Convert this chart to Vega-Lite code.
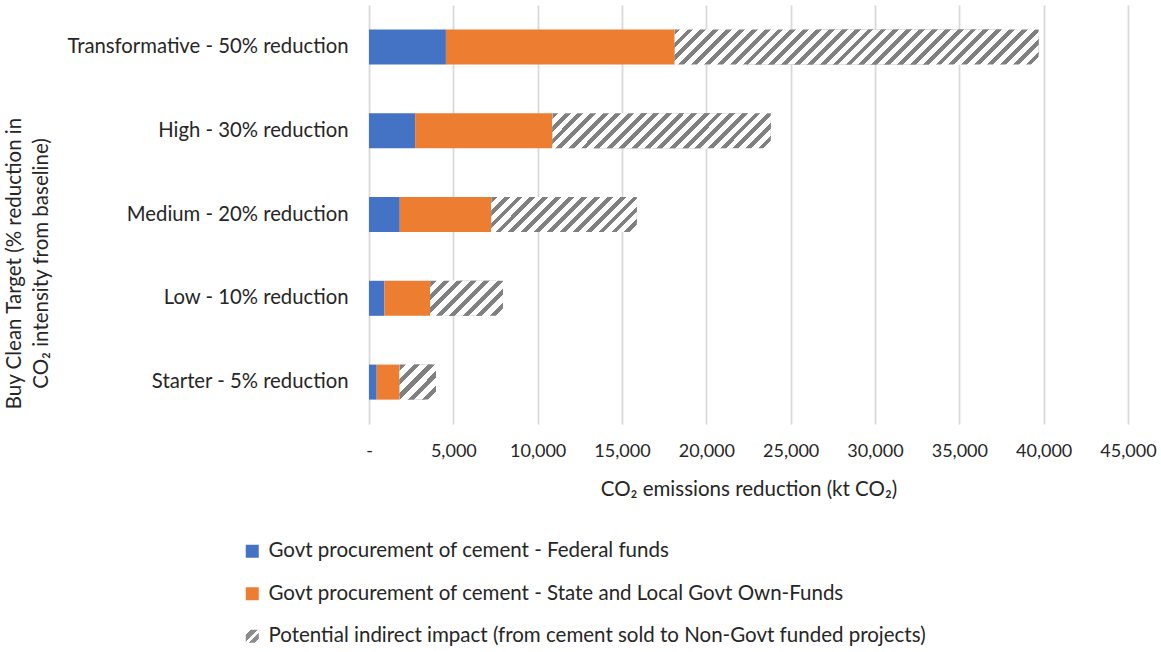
{
  "$schema": "https://vega.github.io/schema/vega-lite/v6.json",
  "autosize": {"type": "none"},
  "width": 759,
  "height": 419,
  "padding": {"left": 369, "top": 5, "right": 33, "bottom": 228},
  "background": "white",
  "config": {
    "view": {"stroke": null},
    "font": "Lato",
    "axis": {"labelFont": "Lato", "titleFont": "Lato", "labelColor": "#262626", "titleColor": "#262626", "titleFontWeight": "normal"},
    "legend": {"labelFont": "Lato", "labelColor": "#262626"}
  },
  "data": {
    "values": [
      {"Target": "Starter - 5% reduction", "Source": "Govt procurement of cement - Federal funds", "order": 1, "Value": 456},
      {"Target": "Starter - 5% reduction", "Source": "Govt procurement of cement - State and Local Govt Own-Funds", "order": 2, "Value": 1357},
      {"Target": "Starter - 5% reduction", "Source": "Potential indirect impact (from cement sold to Non-Govt funded projects)", "order": 3, "Value": 2157},
      {"Target": "Low - 10% reduction", "Source": "Govt procurement of cement - Federal funds", "order": 1, "Value": 912},
      {"Target": "Low - 10% reduction", "Source": "Govt procurement of cement - State and Local Govt Own-Funds", "order": 2, "Value": 2714},
      {"Target": "Low - 10% reduction", "Source": "Potential indirect impact (from cement sold to Non-Govt funded projects)", "order": 3, "Value": 4314},
      {"Target": "Medium - 20% reduction", "Source": "Govt procurement of cement - Federal funds", "order": 1, "Value": 1824},
      {"Target": "Medium - 20% reduction", "Source": "Govt procurement of cement - State and Local Govt Own-Funds", "order": 2, "Value": 5428},
      {"Target": "Medium - 20% reduction", "Source": "Potential indirect impact (from cement sold to Non-Govt funded projects)", "order": 3, "Value": 8628},
      {"Target": "High - 30% reduction", "Source": "Govt procurement of cement - Federal funds", "order": 1, "Value": 2736},
      {"Target": "High - 30% reduction", "Source": "Govt procurement of cement - State and Local Govt Own-Funds", "order": 2, "Value": 8142},
      {"Target": "High - 30% reduction", "Source": "Potential indirect impact (from cement sold to Non-Govt funded projects)", "order": 3, "Value": 12942},
      {"Target": "Transformative - 50% reduction", "Source": "Govt procurement of cement - Federal funds", "order": 1, "Value": 4560},
      {"Target": "Transformative - 50% reduction", "Source": "Govt procurement of cement - State and Local Govt Own-Funds", "order": 2, "Value": 13570},
      {"Target": "Transformative - 50% reduction", "Source": "Potential indirect impact (from cement sold to Non-Govt funded projects)", "order": 3, "Value": 21570}
    ]
  },
  "transform": [
    {"stack": "Value", "groupby": ["Target"], "sort": [{"field": "order"}], "as": ["x0", "x1"]}
  ],
  "encoding": {
    "x": {
      "field": "x0", "type": "quantitative",
      "scale": {"domain": [0, 45000], "nice": false},
      "axis": {
        "values": [0, 5000, 10000, 15000, 20000, 25000, 30000, 35000, 40000, 45000],
        "labelExpr": "datum.value == 0 ? '-' : format(datum.value, ',')",
        "domain": false, "ticks": false, "labelFlush": false, "labelOverlap": false,
        "grid": true, "gridColor": "#d9d9d9", "gridWidth": 1.8,
        "labelFontSize": 18, "labelPadding": 18,
        "title": "CO₂ emissions reduction (kt CO₂)",
        "titleFontSize": 20.5, "titlePadding": 19
      }
    },
    "x2": {"field": "x1"},
    "y": {
      "field": "Target", "type": "nominal",
      "sort": ["Transformative - 50% reduction", "High - 30% reduction", "Medium - 20% reduction", "Low - 10% reduction", "Starter - 5% reduction"],
      "scale": {"paddingInner": 0.582, "paddingOuter": 0.291},
      "axis": {
        "domain": false, "ticks": false, "grid": false,
        "labelFontSize": 20.3, "labelPadding": 21, "labelLimit": 400,
        "title": ["Buy Clean Target (% reduction in", "CO₂ intensity from baseline)"],
        "titleFontSize": 20.5, "titleLineHeight": 27,
        "titleX": -365, "titleY": 258, "titleAlign": "center", "titleBaseline": "top", "titleAngle": -90
      }
    }
  },
  "layer": [
    {
      "mark": {"type": "bar"},
      "encoding": {
        "color": {
          "field": "Source", "type": "nominal",
          "scale": {
            "domain": ["Govt procurement of cement - Federal funds", "Govt procurement of cement - State and Local Govt Own-Funds", "Potential indirect impact (from cement sold to Non-Govt funded projects)"],
            "range": ["#4472c4", "#ed7d31", {"expr": "{gradient: 'linear', x1: 0, y1: 0, x2: 1, y2: 1, stops: [{offset: 0, color: '#ffffff'}, {offset: 0.2, color: '#ffffff'}, {offset: 0.2, color: '#8c8c8c'}, {offset: 0.45, color: '#8c8c8c'}, {offset: 0.45, color: '#ffffff'}, {offset: 0.6, color: '#ffffff'}, {offset: 0.6, color: '#8c8c8c'}, {offset: 0.85, color: '#8c8c8c'}, {offset: 0.85, color: '#ffffff'}, {offset: 1, color: '#ffffff'}]}"}]
          },
          "legend": {
            "orient": "none", "legendX": -127, "legendY": 536, "direction": "vertical",
            "title": null, "symbolType": "square", "symbolSize": 169, "symbolStrokeWidth": 0,
            "labelFontSize": 20.5, "labelOffset": 6, "rowPadding": 21.5, "padding": 0, "labelLimit": 800
          }
        }
      }
    },
    {
      "transform": [{"filter": "datum.order == 3 && datum.Target == 'Starter - 5% reduction'"}],
      "mark": {"type": "bar", "fill": {"gradient": "linear", "x1": 0, "y1": 0, "x2": 1.019, "y2": 0.98, "stops": [
        {"offset": 0, "color": "#808080"}, {"offset": 0.09, "color": "#808080"}, {"offset": 0.09, "color": "#ffffff"}, {"offset": 0.2, "color": "#ffffff"},
        {"offset": 0.2, "color": "#808080"}, {"offset": 0.29, "color": "#808080"}, {"offset": 0.29, "color": "#ffffff"}, {"offset": 0.4, "color": "#ffffff"},
        {"offset": 0.4, "color": "#808080"}, {"offset": 0.49, "color": "#808080"}, {"offset": 0.49, "color": "#ffffff"}, {"offset": 0.6, "color": "#ffffff"},
        {"offset": 0.6, "color": "#808080"}, {"offset": 0.69, "color": "#808080"}, {"offset": 0.69, "color": "#ffffff"}, {"offset": 0.8, "color": "#ffffff"},
        {"offset": 0.8, "color": "#808080"}, {"offset": 0.89, "color": "#808080"}, {"offset": 0.89, "color": "#ffffff"}, {"offset": 1, "color": "#ffffff"}
      ]}}
    },
    {
      "transform": [{"filter": "datum.order == 3 && datum.Target == 'Low - 10% reduction'"}],
      "mark": {"type": "bar", "fill": {"gradient": "linear", "x1": 0, "y1": 0, "x2": 1.2027, "y2": 0.5782, "stops": [
        {"offset": 0, "color": "#808080"}, {"offset": 0.05625, "color": "#808080"}, {"offset": 0.05625, "color": "#ffffff"}, {"offset": 0.125, "color": "#ffffff"},
        {"offset": 0.125, "color": "#808080"}, {"offset": 0.18125, "color": "#808080"}, {"offset": 0.18125, "color": "#ffffff"}, {"offset": 0.25, "color": "#ffffff"},
        {"offset": 0.25, "color": "#808080"}, {"offset": 0.30625, "color": "#808080"}, {"offset": 0.30625, "color": "#ffffff"}, {"offset": 0.375, "color": "#ffffff"},
        {"offset": 0.375, "color": "#808080"}, {"offset": 0.43125, "color": "#808080"}, {"offset": 0.43125, "color": "#ffffff"}, {"offset": 0.5, "color": "#ffffff"},
        {"offset": 0.5, "color": "#808080"}, {"offset": 0.55625, "color": "#808080"}, {"offset": 0.55625, "color": "#ffffff"}, {"offset": 0.625, "color": "#ffffff"},
        {"offset": 0.625, "color": "#808080"}, {"offset": 0.68125, "color": "#808080"}, {"offset": 0.68125, "color": "#ffffff"}, {"offset": 0.75, "color": "#ffffff"},
        {"offset": 0.75, "color": "#808080"}, {"offset": 0.80625, "color": "#808080"}, {"offset": 0.80625, "color": "#ffffff"}, {"offset": 0.875, "color": "#ffffff"},
        {"offset": 0.875, "color": "#808080"}, {"offset": 0.93125, "color": "#808080"}, {"offset": 0.93125, "color": "#ffffff"}, {"offset": 1, "color": "#ffffff"}
      ]}}
    },
    {
      "transform": [{"filter": "datum.order == 3 && datum.Target == 'Medium - 20% reduction'"}],
      "mark": {"type": "bar", "fill": {"gradient": "linear", "x1": 0, "y1": 0, "x2": 1.1727, "y2": 0.2821, "stops": [
        {"offset": 0, "color": "#808080"}, {"offset": 0.032143, "color": "#808080"}, {"offset": 0.032143, "color": "#ffffff"}, {"offset": 0.071429, "color": "#ffffff"},
        {"offset": 0.071429, "color": "#808080"}, {"offset": 0.103571, "color": "#808080"}, {"offset": 0.103571, "color": "#ffffff"}, {"offset": 0.142857, "color": "#ffffff"},
        {"offset": 0.142857, "color": "#808080"}, {"offset": 0.175, "color": "#808080"}, {"offset": 0.175, "color": "#ffffff"}, {"offset": 0.214286, "color": "#ffffff"},
        {"offset": 0.214286, "color": "#808080"}, {"offset": 0.246429, "color": "#808080"}, {"offset": 0.246429, "color": "#ffffff"}, {"offset": 0.285714, "color": "#ffffff"},
        {"offset": 0.285714, "color": "#808080"}, {"offset": 0.317857, "color": "#808080"}, {"offset": 0.317857, "color": "#ffffff"}, {"offset": 0.357143, "color": "#ffffff"},
        {"offset": 0.357143, "color": "#808080"}, {"offset": 0.389286, "color": "#808080"}, {"offset": 0.389286, "color": "#ffffff"}, {"offset": 0.428571, "color": "#ffffff"},
        {"offset": 0.428571, "color": "#808080"}, {"offset": 0.460714, "color": "#808080"}, {"offset": 0.460714, "color": "#ffffff"}, {"offset": 0.5, "color": "#ffffff"},
        {"offset": 0.5, "color": "#808080"}, {"offset": 0.532143, "color": "#808080"}, {"offset": 0.532143, "color": "#ffffff"}, {"offset": 0.571429, "color": "#ffffff"},
        {"offset": 0.571429, "color": "#808080"}, {"offset": 0.603571, "color": "#808080"}, {"offset": 0.603571, "color": "#ffffff"}, {"offset": 0.642857, "color": "#ffffff"},
        {"offset": 0.642857, "color": "#808080"}, {"offset": 0.675, "color": "#808080"}, {"offset": 0.675, "color": "#ffffff"}, {"offset": 0.714286, "color": "#ffffff"},
        {"offset": 0.714286, "color": "#808080"}, {"offset": 0.746429, "color": "#808080"}, {"offset": 0.746429, "color": "#ffffff"}, {"offset": 0.785714, "color": "#ffffff"},
        {"offset": 0.785714, "color": "#808080"}, {"offset": 0.817857, "color": "#808080"}, {"offset": 0.817857, "color": "#ffffff"}, {"offset": 0.857143, "color": "#ffffff"},
        {"offset": 0.857143, "color": "#808080"}, {"offset": 0.889286, "color": "#808080"}, {"offset": 0.889286, "color": "#ffffff"}, {"offset": 0.928571, "color": "#ffffff"},
        {"offset": 0.928571, "color": "#808080"}, {"offset": 0.960714, "color": "#808080"}, {"offset": 0.960714, "color": "#ffffff"}, {"offset": 1, "color": "#ffffff"}
      ]}}
    },
    {
      "transform": [{"filter": "datum.order == 3 && datum.Target == 'High - 30% reduction'"}],
      "mark": {"type": "bar", "fill": {"gradient": "linear", "x1": 0, "y1": 0, "x2": 1.1312, "y2": 0.1814, "stops": [
        {"offset": 0, "color": "#808080"}, {"offset": 0.0225, "color": "#808080"}, {"offset": 0.0225, "color": "#ffffff"}, {"offset": 0.05, "color": "#ffffff"},
        {"offset": 0.05, "color": "#808080"}, {"offset": 0.0725, "color": "#808080"}, {"offset": 0.0725, "color": "#ffffff"}, {"offset": 0.1, "color": "#ffffff"},
        {"offset": 0.1, "color": "#808080"}, {"offset": 0.1225, "color": "#808080"}, {"offset": 0.1225, "color": "#ffffff"}, {"offset": 0.15, "color": "#ffffff"},
        {"offset": 0.15, "color": "#808080"}, {"offset": 0.1725, "color": "#808080"}, {"offset": 0.1725, "color": "#ffffff"}, {"offset": 0.2, "color": "#ffffff"},
        {"offset": 0.2, "color": "#808080"}, {"offset": 0.2225, "color": "#808080"}, {"offset": 0.2225, "color": "#ffffff"}, {"offset": 0.25, "color": "#ffffff"},
        {"offset": 0.25, "color": "#808080"}, {"offset": 0.2725, "color": "#808080"}, {"offset": 0.2725, "color": "#ffffff"}, {"offset": 0.3, "color": "#ffffff"},
        {"offset": 0.3, "color": "#808080"}, {"offset": 0.3225, "color": "#808080"}, {"offset": 0.3225, "color": "#ffffff"}, {"offset": 0.35, "color": "#ffffff"},
        {"offset": 0.35, "color": "#808080"}, {"offset": 0.3725, "color": "#808080"}, {"offset": 0.3725, "color": "#ffffff"}, {"offset": 0.4, "color": "#ffffff"},
        {"offset": 0.4, "color": "#808080"}, {"offset": 0.4225, "color": "#808080"}, {"offset": 0.4225, "color": "#ffffff"}, {"offset": 0.45, "color": "#ffffff"},
        {"offset": 0.45, "color": "#808080"}, {"offset": 0.4725, "color": "#808080"}, {"offset": 0.4725, "color": "#ffffff"}, {"offset": 0.5, "color": "#ffffff"},
        {"offset": 0.5, "color": "#808080"}, {"offset": 0.5225, "color": "#808080"}, {"offset": 0.5225, "color": "#ffffff"}, {"offset": 0.55, "color": "#ffffff"},
        {"offset": 0.55, "color": "#808080"}, {"offset": 0.5725, "color": "#808080"}, {"offset": 0.5725, "color": "#ffffff"}, {"offset": 0.6, "color": "#ffffff"},
        {"offset": 0.6, "color": "#808080"}, {"offset": 0.6225, "color": "#808080"}, {"offset": 0.6225, "color": "#ffffff"}, {"offset": 0.65, "color": "#ffffff"},
        {"offset": 0.65, "color": "#808080"}, {"offset": 0.6725, "color": "#808080"}, {"offset": 0.6725, "color": "#ffffff"}, {"offset": 0.7, "color": "#ffffff"},
        {"offset": 0.7, "color": "#808080"}, {"offset": 0.7225, "color": "#808080"}, {"offset": 0.7225, "color": "#ffffff"}, {"offset": 0.75, "color": "#ffffff"},
        {"offset": 0.75, "color": "#808080"}, {"offset": 0.7725, "color": "#808080"}, {"offset": 0.7725, "color": "#ffffff"}, {"offset": 0.8, "color": "#ffffff"},
        {"offset": 0.8, "color": "#808080"}, {"offset": 0.8225, "color": "#808080"}, {"offset": 0.8225, "color": "#ffffff"}, {"offset": 0.85, "color": "#ffffff"},
        {"offset": 0.85, "color": "#808080"}, {"offset": 0.8725, "color": "#808080"}, {"offset": 0.8725, "color": "#ffffff"}, {"offset": 0.9, "color": "#ffffff"},
        {"offset": 0.9, "color": "#808080"}, {"offset": 0.9225, "color": "#808080"}, {"offset": 0.9225, "color": "#ffffff"}, {"offset": 0.95, "color": "#ffffff"},
        {"offset": 0.95, "color": "#808080"}, {"offset": 0.9725, "color": "#808080"}, {"offset": 0.9725, "color": "#ffffff"}, {"offset": 1, "color": "#ffffff"}
      ]}}
    },
    {
      "transform": [{"filter": "datum.order == 3 && datum.Target == 'Transformative - 50% reduction'"}],
      "mark": {"type": "bar", "fill": {"gradient": "linear", "x1": 0, "y1": 0, "x2": 1.0862, "y2": 0.1045, "stops": [
        {"offset": 0, "color": "#808080"}, {"offset": 0.014516, "color": "#808080"}, {"offset": 0.014516, "color": "#ffffff"}, {"offset": 0.032258, "color": "#ffffff"},
        {"offset": 0.032258, "color": "#808080"}, {"offset": 0.046774, "color": "#808080"}, {"offset": 0.046774, "color": "#ffffff"}, {"offset": 0.064516, "color": "#ffffff"},
        {"offset": 0.064516, "color": "#808080"}, {"offset": 0.079032, "color": "#808080"}, {"offset": 0.079032, "color": "#ffffff"}, {"offset": 0.096774, "color": "#ffffff"},
        {"offset": 0.096774, "color": "#808080"}, {"offset": 0.11129, "color": "#808080"}, {"offset": 0.11129, "color": "#ffffff"}, {"offset": 0.129032, "color": "#ffffff"},
        {"offset": 0.129032, "color": "#808080"}, {"offset": 0.143548, "color": "#808080"}, {"offset": 0.143548, "color": "#ffffff"}, {"offset": 0.16129, "color": "#ffffff"},
        {"offset": 0.16129, "color": "#808080"}, {"offset": 0.175806, "color": "#808080"}, {"offset": 0.175806, "color": "#ffffff"}, {"offset": 0.193548, "color": "#ffffff"},
        {"offset": 0.193548, "color": "#808080"}, {"offset": 0.208065, "color": "#808080"}, {"offset": 0.208065, "color": "#ffffff"}, {"offset": 0.225806, "color": "#ffffff"},
        {"offset": 0.225806, "color": "#808080"}, {"offset": 0.240323, "color": "#808080"}, {"offset": 0.240323, "color": "#ffffff"}, {"offset": 0.258065, "color": "#ffffff"},
        {"offset": 0.258065, "color": "#808080"}, {"offset": 0.272581, "color": "#808080"}, {"offset": 0.272581, "color": "#ffffff"}, {"offset": 0.290323, "color": "#ffffff"},
        {"offset": 0.290323, "color": "#808080"}, {"offset": 0.304839, "color": "#808080"}, {"offset": 0.304839, "color": "#ffffff"}, {"offset": 0.322581, "color": "#ffffff"},
        {"offset": 0.322581, "color": "#808080"}, {"offset": 0.337097, "color": "#808080"}, {"offset": 0.337097, "color": "#ffffff"}, {"offset": 0.354839, "color": "#ffffff"},
        {"offset": 0.354839, "color": "#808080"}, {"offset": 0.369355, "color": "#808080"}, {"offset": 0.369355, "color": "#ffffff"}, {"offset": 0.387097, "color": "#ffffff"},
        {"offset": 0.387097, "color": "#808080"}, {"offset": 0.401613, "color": "#808080"}, {"offset": 0.401613, "color": "#ffffff"}, {"offset": 0.419355, "color": "#ffffff"},
        {"offset": 0.419355, "color": "#808080"}, {"offset": 0.433871, "color": "#808080"}, {"offset": 0.433871, "color": "#ffffff"}, {"offset": 0.451613, "color": "#ffffff"},
        {"offset": 0.451613, "color": "#808080"}, {"offset": 0.466129, "color": "#808080"}, {"offset": 0.466129, "color": "#ffffff"}, {"offset": 0.483871, "color": "#ffffff"},
        {"offset": 0.483871, "color": "#808080"}, {"offset": 0.498387, "color": "#808080"}, {"offset": 0.498387, "color": "#ffffff"}, {"offset": 0.516129, "color": "#ffffff"},
        {"offset": 0.516129, "color": "#808080"}, {"offset": 0.530645, "color": "#808080"}, {"offset": 0.530645, "color": "#ffffff"}, {"offset": 0.548387, "color": "#ffffff"},
        {"offset": 0.548387, "color": "#808080"}, {"offset": 0.562903, "color": "#808080"}, {"offset": 0.562903, "color": "#ffffff"}, {"offset": 0.580645, "color": "#ffffff"},
        {"offset": 0.580645, "color": "#808080"}, {"offset": 0.595161, "color": "#808080"}, {"offset": 0.595161, "color": "#ffffff"}, {"offset": 0.612903, "color": "#ffffff"},
        {"offset": 0.612903, "color": "#808080"}, {"offset": 0.627419, "color": "#808080"}, {"offset": 0.627419, "color": "#ffffff"}, {"offset": 0.645161, "color": "#ffffff"},
        {"offset": 0.645161, "color": "#808080"}, {"offset": 0.659677, "color": "#808080"}, {"offset": 0.659677, "color": "#ffffff"}, {"offset": 0.677419, "color": "#ffffff"},
        {"offset": 0.677419, "color": "#808080"}, {"offset": 0.691935, "color": "#808080"}, {"offset": 0.691935, "color": "#ffffff"}, {"offset": 0.709677, "color": "#ffffff"},
        {"offset": 0.709677, "color": "#808080"}, {"offset": 0.724194, "color": "#808080"}, {"offset": 0.724194, "color": "#ffffff"}, {"offset": 0.741935, "color": "#ffffff"},
        {"offset": 0.741935, "color": "#808080"}, {"offset": 0.756452, "color": "#808080"}, {"offset": 0.756452, "color": "#ffffff"}, {"offset": 0.774194, "color": "#ffffff"},
        {"offset": 0.774194, "color": "#808080"}, {"offset": 0.78871, "color": "#808080"}, {"offset": 0.78871, "color": "#ffffff"}, {"offset": 0.806452, "color": "#ffffff"},
        {"offset": 0.806452, "color": "#808080"}, {"offset": 0.820968, "color": "#808080"}, {"offset": 0.820968, "color": "#ffffff"}, {"offset": 0.83871, "color": "#ffffff"},
        {"offset": 0.83871, "color": "#808080"}, {"offset": 0.853226, "color": "#808080"}, {"offset": 0.853226, "color": "#ffffff"}, {"offset": 0.870968, "color": "#ffffff"},
        {"offset": 0.870968, "color": "#808080"}, {"offset": 0.885484, "color": "#808080"}, {"offset": 0.885484, "color": "#ffffff"}, {"offset": 0.903226, "color": "#ffffff"},
        {"offset": 0.903226, "color": "#808080"}, {"offset": 0.917742, "color": "#808080"}, {"offset": 0.917742, "color": "#ffffff"}, {"offset": 0.935484, "color": "#ffffff"},
        {"offset": 0.935484, "color": "#808080"}, {"offset": 0.95, "color": "#808080"}, {"offset": 0.95, "color": "#ffffff"}, {"offset": 0.967742, "color": "#ffffff"},
        {"offset": 0.967742, "color": "#808080"}, {"offset": 0.982258, "color": "#808080"}, {"offset": 0.982258, "color": "#ffffff"}, {"offset": 1, "color": "#ffffff"}
      ]}}
    }
  ]
}
